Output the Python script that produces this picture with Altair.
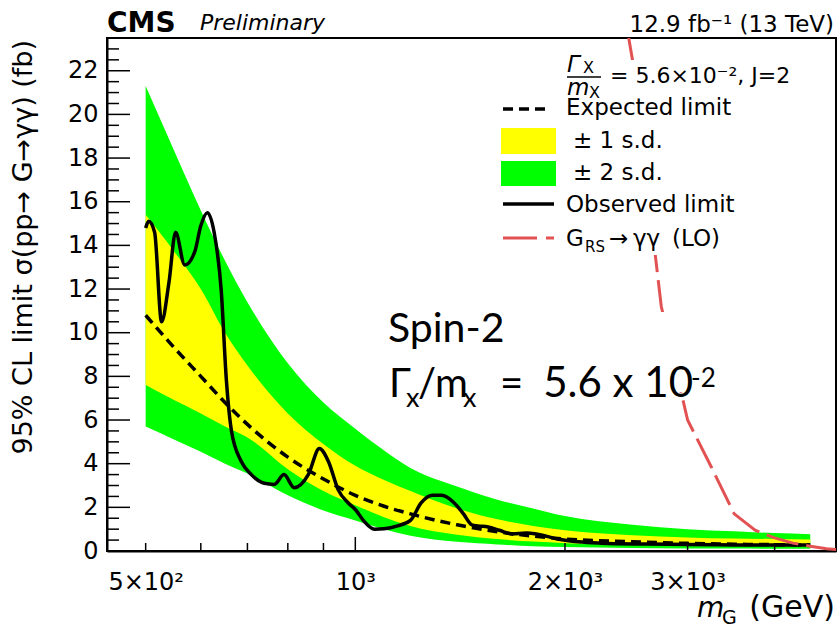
import altair as alt
import pandas as pd

FONT = "DejaVu Sans"
NOTE_FONT = "Lato"
RED = "#e25252"

# Expected limit and its 1/2 s.d. bands (fb) versus graviton mass (GeV)
band_mass = [500, 550, 600, 650, 700, 800, 900, 1000, 1100, 1200, 1400, 1600, 1800,
             2000, 2500, 3000, 3500, 4000, 4500]
expected = [10.8, 9.3, 8.0, 6.8, 5.8, 4.3, 3.3, 2.55, 2.05, 1.7, 1.2, 0.88, 0.68,
            0.55, 0.42, 0.35, 0.31, 0.29, 0.27]
plus2 = [21.3, 18.3, 15.6, 13.3, 11.4, 8.6, 6.8, 5.6, 4.6, 3.8, 2.95, 2.35, 1.95,
         1.6, 1.2, 1.0, 0.9, 0.82, 0.77]
plus1 = [15.4, 13.7, 12.0, 10.0, 8.5, 6.3, 4.9, 3.9, 3.25, 2.75, 1.95, 1.45, 1.15,
         0.95, 0.72, 0.62, 0.57, 0.55, 0.53]
minus1 = [7.6, 6.9, 6.3, 5.7, 5.2, 3.75, 2.75, 2.1, 1.55, 1.15, 0.75, 0.55, 0.43,
          0.36, 0.3, 0.26, 0.24, 0.22, 0.21]
minus2 = [5.7, 5.1, 4.55, 4.0, 3.55, 2.55, 1.85, 1.4, 1.0, 0.7, 0.42, 0.3, 0.22,
          0.18, 0.14, 0.12, 0.11, 0.1, 0.1]

# Observed limit
obs_mass = [500, 505, 515, 527, 540, 552, 569, 588, 600, 613, 627, 642, 653, 664,
            686, 709, 740, 765, 790, 817, 856, 888, 915, 945, 977, 1000, 1030, 1065,
            1100, 1150, 1200, 1243, 1290, 1330, 1387, 1430, 1470, 1500, 1551, 1610,
            1680, 1760, 1820, 1950, 2090, 2254, 2600, 3000, 3500, 4000, 4500]
observed = [14.8, 15.1, 14.6, 10.5, 12.3, 14.6, 13.1, 13.7, 14.9, 15.5, 14.6, 11.9,
            7.8, 5.5, 4.1, 3.5, 3.1, 3.05, 3.5, 2.9, 3.5, 4.7, 4.1, 2.8, 2.2, 1.9,
            1.35, 1.0, 1.02, 1.15, 1.4, 2.2, 2.55, 2.55, 2.2, 1.7, 1.2, 1.15, 1.1,
            0.95, 0.78, 0.82, 0.78, 0.55, 0.42, 0.36, 0.32, 0.3, 0.28, 0.27, 0.27]

# RS graviton -> diphoton cross section (LO)
rs_mass = [2250, 2500, 2750, 3000, 3250, 3500, 3750, 4000, 4250, 4500, 4750, 5000]
rs_xsec = [31.0, 22.5, 11.2, 6.0, 3.8, 1.7, 0.95, 0.6, 0.36, 0.22, 0.1, 0.05]

# Axis ticks and labels
x_label_values = [500, 1000, 2000, 3000]
x_label_texts = ["5×10²", "10³", "2×10³", "3×10³"]
x_major_ticks = [1000]
x_minor_ticks = [500, 600, 700, 800, 900, 2000, 3000, 4000]
y_major_ticks = [0, 2, 4, 6, 8, 10, 12, 14, 16, 18, 20, 22]
y_minor_ticks = [0.5, 1, 1.5, 2.5, 3, 3.5, 4.5, 5, 5.5, 6.5, 7, 7.5, 8.5, 9, 9.5,
                 10.5, 11, 11.5, 12.5, 13, 13.5, 14.5, 15, 15.5, 16.5, 17, 17.5,
                 18.5, 19, 19.5, 20.5, 21, 21.5, 22.5, 23]

legend_texts = ["Expected limit", "± 1 s.d.", "± 2 s.d.", "Observed limit"]
y_title = "95% CL limit σ(pp→ G→γγ) (fb)"

W, H = 729, 513

x_scale = alt.Scale(type="log", domain=[440, 4900], nice=False)
y_scale = alt.Scale(domain=[0, 23.5], nice=False, zero=False)

label_expr = " : ".join(
    f"datum.value == {v} ? '{t}'" for v, t in zip(x_label_values, x_label_texts)
) + " : ''"

x_axis = alt.Axis(values=x_label_values, labelExpr=label_expr, ticks=False, grid=False,
                  domainColor="black", domainWidth=2, labelFont=FONT, labelFontSize=24,
                  labelColor="black", labelPadding=19, labelFlush=False,
                  labelOverlap=False, title=None)
y_axis = alt.Axis(values=y_major_ticks, ticks=False, grid=False, domainColor="black",
                  domainWidth=2, labelFont=FONT, labelFontSize=24, labelColor="black",
                  labelPadding=9, labelFlush=False, labelOverlap=False, title=None)


def X(field):
    return alt.X(field, type="quantitative", scale=x_scale, axis=x_axis)


def Y(field):
    return alt.Y(field, type="quantitative", scale=y_scale, axis=y_axis)


bands = pd.DataFrame({"m": band_mass, "exp": expected, "p2": plus2, "p1": plus1,
                      "m1": minus1, "m2": minus2})
obs = pd.DataFrame({"m": obs_mass, "obs": observed})
rs = pd.DataFrame({"m": rs_mass, "xs": rs_xsec})

green = alt.Chart(bands).mark_area(color="#00ff00", interpolate="monotone").encode(
    x=X("m"), y=Y("p2"), y2="m2")
yellow = alt.Chart(bands).mark_area(color="#ffff00", interpolate="monotone").encode(
    x=X("m"), y=Y("p1"), y2="m1")
exp_line = alt.Chart(bands).mark_line(color="black", strokeWidth=3.5, strokeDash=[10, 6],
                                      interpolate="monotone").encode(x=X("m"), y=Y("exp"))
obs_line = alt.Chart(obs).mark_line(color="black", strokeWidth=3.5,
                                    interpolate="monotone").encode(x=X("m"), y=Y("obs"))
rs_line = alt.Chart(rs).mark_line(color=RED, strokeWidth=3, strokeDash=[33, 8],
                                  clip=True).encode(x=X("m"), y=Y("xs"))


def hticks(values, length):
    return alt.Chart(pd.DataFrame({"v": values})).mark_rule(
        color="black", strokeWidth=1.5).encode(
        y=Y("v"), x=alt.value(0), x2=alt.value(length))


def vticks(values, length):
    return alt.Chart(pd.DataFrame({"v": values})).mark_rule(
        color="black", strokeWidth=1.5).encode(
        x=X("v"), y=alt.value(H), y2=alt.value(H - length))


def txt(s, x, y, size, font=FONT, **kw):
    opts = dict(align="left", baseline="alphabetic", font=font, fontSize=size,
                color="black")
    opts.update(kw)
    return alt.Chart(pd.DataFrame({"s": [s]})).mark_text(**opts).encode(
        x=alt.value(x), y=alt.value(y), text="s:N")


def rule(x1, x2, y, **kw):
    return alt.Chart(pd.DataFrame({"s": [0]})).mark_rule(**kw).encode(
        x=alt.value(x1), x2=alt.value(x2), y=alt.value(y))


def box(x1, x2, y1, y2, color):
    return alt.Chart(pd.DataFrame({"s": [0]})).mark_rect(color=color).encode(
        x=alt.value(x1), x2=alt.value(x2), y=alt.value(y1), y2=alt.value(y2))


# White panels: the legend box and the annotation box hide the curves behind them
legend_box = box(380, 690, 22, 217, "white")
note_box = box(276, 578, 274, 354, "white")
note = [
    txt("Spin-2", 281, 304, 41, NOTE_FONT),
    txt("Γ", 282, 359, 40, NOTE_FONT),
    txt("x", 299, 369, 27, NOTE_FONT),
    txt("/m", 311, 359, 40, NOTE_FONT),
    txt("x", 356, 369, 27, NOTE_FONT),
    txt("=", 393, 359, 40, NOTE_FONT),
    txt("5.6 x 10", 586, 359, 42, NOTE_FONT, align="right"),
    txt("-2", 584, 349, 26, NOTE_FONT),
]

legend = [
    txt("Γ", 460, 34, 23, fontStyle="italic"),
    txt("X", 476, 35, 16),
    rule(460, 494, 39, color="black", strokeWidth=1.5),
    txt("m", 460, 57, 23, fontStyle="italic"),
    txt("X", 482, 60, 16),
    txt("= 5.6×10⁻², J=2", 503, 45, 22),
    rule(396, 440, 71, color="black", strokeWidth=3.5, strokeDash=[10, 6]),
    txt(legend_texts[0], 459, 77, 23),
    box(394, 449, 90, 116, "#ffff00"),
    txt(legend_texts[1], 466, 110, 23),
    box(394, 449, 123, 148, "#00ff00"),
    txt(legend_texts[2], 466, 142, 23),
    rule(396, 447, 166, color="black", strokeWidth=3.5),
    txt(legend_texts[3], 459, 174, 23),
    rule(396, 447, 200, color=RED, strokeWidth=3, strokeDash=[34, 9]),
    txt("G", 459, 208, 23),
    txt("RS", 478, 214, 15),
    txt("→", 502, 208, 23),
    txt("γγ", 526, 208, 23),
    txt("(LO)", 565, 208, 23),
]

titles = [
    txt("CMS", 0, -6, 28, fontWeight="bold"),
    txt("Preliminary", 93, -8, 22, fontStyle="italic"),
    txt("12.9 fb⁻¹ (13 TeV)", 727, -6, 23, align="right"),
    txt(y_title, -83, 2, 27, angle=270, align="right", baseline="middle"),
    txt("(GeV)", 728, 579, 30, align="right"),
    txt("G", 615, 586, 19),
    txt("m", 590, 579, 28, fontStyle="italic"),
]

chart = alt.layer(
    green, yellow, exp_line, obs_line, rs_line,
    hticks(y_major_ticks, 23), hticks(y_minor_ticks, 12),
    vticks(x_major_ticks, 14), vticks(x_minor_ticks, 8),
    legend_box, note_box, *note, *legend, *titles,
).properties(
    width=W, height=H,
    padding={"left": 107, "top": 38, "right": 4, "bottom": 78},
    autosize=alt.AutoSizeParams(type="none"),
).configure(background="white").configure_view(stroke="black", strokeWidth=2)

chart.save("out.html", embed_options={"renderer": "svg", "actions": False})
